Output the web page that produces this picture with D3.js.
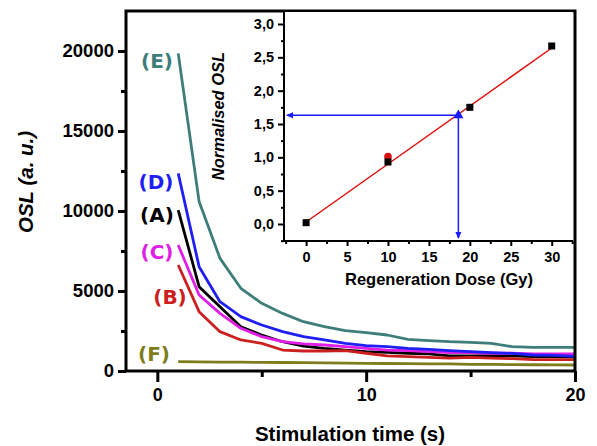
<!DOCTYPE html>
<html><head><meta charset="utf-8">
<script src="https://cdn.jsdelivr.net/npm/d3@7/dist/d3.min.js"></script>
<style>body{margin:0;background:#fff}svg{display:block}</style>
</head><body>
<script>
// ---- data ----
const time = [1,2,3,4,5,6,7,8,9,10,11,12,13,14,15,16,17,18,19,20];
const seriesA = [10060,5270,4020,2770,2250,1830,1560,1415,1310,1210,1170,1110,1070,940,940,960,940,900,900,870];
const seriesB = [6625,3710,2460,1940,1730,1310,1250,1250,1270,1110,940,900,850,810,850,810,770,710,710,710];
const seriesC = [7875,4750,3600,2670,2145,1830,1690,1625,1520,1415,1310,1270,1210,1145,1145,1110,1110,1070,1070,1070];
const seriesD = [12350,6520,4330,3400,2875,2460,2145,1940,1730,1580,1520,1415,1350,1270,1210,1145,1100,1000,980,920];
const seriesE = [19850,10600,7040,5170,4230,3600,3080,2770,2520,2400,2250,1980,1900,1830,1790,1730,1520,1480,1480,1480];
const seriesF = [580,570,560,550,540,530,520,505,490,480,470,460,450,440,420,410,400,390,380,375];
const seriesNames = ["(A)","(B)","(C)","(D)","(E)","(F)"];
const xTicksMajor = [0,10,20], xTicksMinor = [5,15];
const yTicksMajor = [0,5000,10000,15000,20000], yTicksMinor = [2500,7500,12500,17500,22500];

const doses = [0,10,20,30];
const normOSL = [0.02,0.93,1.75,2.67];
const recycleDose = [10], recycleOSL = [1.01];
const fitDose = [0,30], fitOSL = [0.03,2.64];
const deDose = 18.6, deOSL = 1.63;
const insetXMajor = [0,5,10,15,20,25,30];
const insetXMinor = [-2.5,2.5,7.5,12.5,17.5,22.5,27.5,32.5];
const insetYMajor = [0,0.5,1,1.5,2,2.5,3];
const insetYMinor = [-0.25,0.25,0.75,1.25,1.75,2.25,2.75];

const W=597,H=446;
const svg=d3.select("body").append("svg").attr("width",W).attr("height",H);
const AR="'Liberation Sans',Arial,sans-serif", DJ="'DejaVu Sans',Verdana,sans-serif";

const x=d3.scaleLinear().domain([-1.5,20]).range([126,575]);
const y=d3.scaleLinear().domain([0,22500]).range([371,11]);

const colors={"(A)":"#000000","(B)":"#cc2020","(C)":"#e01ee6","(D)":"#1e1ef5","(E)":"#3d7d7a","(F)":"#7d7d1c"};
const data=[seriesA,seriesB,seriesC,seriesD,seriesE,seriesF];

// curves
const line=d3.line().x((d,i)=>x(time[i])).y(d=>y(d));
data.forEach((s,k)=>{
  svg.append("path").attr("d",line(s)).attr("fill","none")
    .attr("stroke",colors[seriesNames[k]]).attr("stroke-width",2.8).attr("stroke-linejoin","round");
});

// labels
const labPos={"(E)":[157,68],"(D)":[156,189],"(A)":[157,222],"(C)":[157,259],"(B)":[170,304],"(F)":[154,361]};
seriesNames.forEach(n=>{
  svg.append("text").attr("x",labPos[n][0]).attr("y",labPos[n][1]).attr("text-anchor","middle")
    .attr("font-family",DJ).attr("font-weight","bold").attr("font-size",20).attr("fill",colors[n]).text(n);
});

// main axes
function styleAxis(g,w){g.select(".domain").remove();g.selectAll("line").attr("stroke","#000").attr("stroke-width",w);
  g.selectAll("text").attr("font-family",AR).attr("font-weight","bold").attr("fill","#000");}
let g=svg.append("g").attr("transform","translate(0,371)").call(d3.axisBottom(x).tickValues(xTicksMajor).tickSize(11).tickPadding(6).tickFormat(d3.format("d")));
styleAxis(g,3);g.selectAll("text").attr("font-size",18);
g=svg.append("g").attr("transform","translate(0,371)").call(d3.axisBottom(x).tickValues(xTicksMinor).tickSize(6).tickFormat(""));
styleAxis(g,3);
g=svg.append("g").attr("transform","translate(126,0)").call(d3.axisLeft(y).tickValues(yTicksMajor).tickSize(8).tickPadding(4).tickFormat(d3.format("d")));
styleAxis(g,3);g.selectAll("text").attr("font-size",18.5);
g=svg.append("g").attr("transform","translate(126,0)").call(d3.axisLeft(y).tickValues(yTicksMinor.filter(v=>v<22500)).tickSize(5).tickFormat(""));
styleAxis(g,3);
svg.append("rect").attr("x",126).attr("y",11).attr("width",449).attr("height",360).attr("fill","none").attr("stroke","#000").attr("stroke-width",3);

// titles
svg.append("text").attr("x",350).attr("y",441).attr("text-anchor","middle").attr("font-family",AR).attr("font-weight","bold").attr("font-size",20.5).text("Stimulation time (s)");
svg.append("text").attr("transform","translate(33,182) rotate(-90)").attr("text-anchor","middle").attr("font-family",AR).attr("font-weight","bold").attr("font-style","italic").attr("font-size",20.5).text("OSL (a. u.)");

// ---- inset ----
const xi=d3.scaleLinear().domain([-2.7,32.6]).range([284,573]);
const yi=d3.scaleLinear().domain([-0.255,3.18]).range([241,12]);
svg.append("rect").attr("x",284).attr("y",12).attr("width",289).attr("height",229).attr("fill","#fff");
const cf=d=>d3.format(".1f")(d).replace(".",",");
g=svg.append("g").attr("transform","translate(0,241)").call(d3.axisBottom(xi).tickValues(insetXMajor).tickSize(5).tickPadding(6).tickFormat(d3.format("d")));
styleAxis(g,2);g.selectAll("text").attr("font-size",14.5);
g=svg.append("g").attr("transform","translate(0,241)").call(d3.axisBottom(xi).tickValues(insetXMinor).tickSize(3).tickFormat(""));
styleAxis(g,2);
g=svg.append("g").attr("transform","translate(284,0)").call(d3.axisLeft(yi).tickValues(insetYMajor).tickSize(6).tickPadding(4).tickFormat(cf));
styleAxis(g,2);g.selectAll("text").attr("font-size",14.5);
g=svg.append("g").attr("transform","translate(284,0)").call(d3.axisLeft(yi).tickValues(insetYMinor).tickSize(3).tickFormat(""));
styleAxis(g,2);
svg.append("line").attr("x1",284).attr("x2",284).attr("y1",12).attr("y2",242).attr("stroke","#000").attr("stroke-width",2);
svg.append("line").attr("x1",283).attr("x2",573).attr("y1",241).attr("y2",241).attr("stroke","#000").attr("stroke-width",2);

// fit line
svg.append("path").attr("d",d3.line().x((d,i)=>xi(fitDose[i])).y(d=>yi(d))(fitOSL)).attr("stroke","#e01010").attr("stroke-width",1.5).attr("fill","none");
// blue arrows
const blue="#1a1aff";
svg.append("line").attr("x1",xi(deDose)).attr("x2",xi(-2.7)+3).attr("y1",yi(deOSL)).attr("y2",yi(deOSL)).attr("stroke",blue).attr("stroke-width",1.5);
svg.append("line").attr("x1",xi(deDose)).attr("x2",xi(deDose)).attr("y1",yi(deOSL)).attr("y2",yi(-0.255)-3).attr("stroke",blue).attr("stroke-width",1.5);
const ax0=xi(-2.7)+2, ay0=yi(deOSL);
svg.append("path").attr("d",`M${ax0},${ay0} l7,-3 l0,6 Z`).attr("fill",blue);
const bx0=xi(deDose), by0=yi(-0.255)-2;
svg.append("path").attr("d",`M${bx0},${by0} l-3,-7 l6,0 Z`).attr("fill",blue);
svg.append("path").attr("d",d3.symbol().type(d3.symbolTriangle).size(45)()).attr("transform",`translate(${xi(deDose)},${yi(deOSL)})`).attr("fill",blue);
// points
svg.selectAll(".circ").data(recycleOSL).enter().append("circle").attr("cx",(d,i)=>xi(recycleDose[i])).attr("cy",d=>yi(d)).attr("r",3.8).attr("fill","#dd1010");
svg.selectAll(".sq").data(normOSL).enter().append("rect").attr("x",(d,i)=>xi(doses[i])-3.5).attr("y",d=>yi(d)-3.5).attr("width",7).attr("height",7).attr("fill","#000");

svg.append("text").attr("x",439).attr("y",285).attr("text-anchor","middle").attr("font-family",AR).attr("font-weight","bold").attr("font-size",16.5).text("Regeneration Dose (Gy)");
svg.append("text").attr("transform","translate(224,116) rotate(-90)").attr("text-anchor","middle").attr("font-family",AR).attr("font-weight","bold").attr("font-style","italic").attr("font-size",16.5).text("Normalised OSL");
</script>
</body></html>
